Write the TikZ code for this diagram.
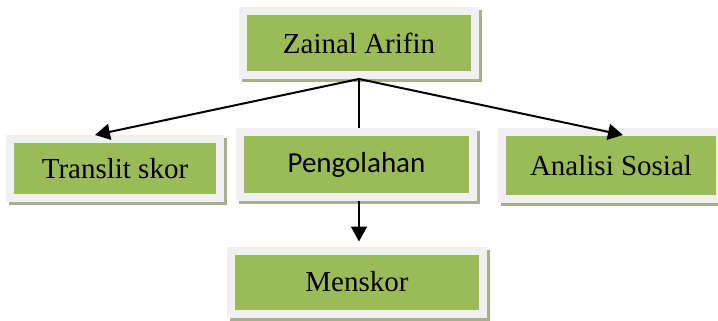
\documentclass[tikz,border=0pt]{standalone}
\usepackage{fontspec}
\setmainfont{Liberation Serif}
\newfontfamily\calibri{Carlito}
\usepackage{tikz}
\usetikzlibrary{arrows.meta,shadows}
\definecolor{olive}{RGB}{155,187,89}
\definecolor{framegray}{RGB}{240,240,240}
\definecolor{shadowgray}{RGB}{166,176,142}
\tikzset{every picture/.style={line width=1pt}}

\begin{document}
\begin{tikzpicture}[x=0.5pt,y=-0.5pt,
  box/.style={rectangle, fill=olive, draw=framegray, line width=4pt, inner sep=0pt,
    font=\fontsize{14.5}{17}\selectfont,
    drop shadow={shadow xshift=1.5pt, shadow yshift=-1.5pt, fill=shadowgray,
      draw=shadowgray, line width=4pt, opacity=1}},
  link/.style={-{Triangle[length=7.5pt,width=8pt]}, line width=1pt}]
\useasboundingbox (0,0) rectangle (718,321);
\node[box, minimum width=116pt, minimum height=32pt] (1) at (359,43) {Zainal Arifin};
\node[box, minimum width=105pt, minimum height=29.5pt] (2) at (115,168.5) {Translit skor};
\node[box, minimum width=116.5pt, minimum height=32.5pt, font=\calibri\fontsize{14.5}{17}\selectfont] (3) at (356.5,164.5) {Pengolahan};
\node[box, minimum width=109pt, minimum height=33.5pt] (4) at (611,165.5) {Analisi Sosial};
\node[box, minimum width=126pt, minimum height=31.5pt] (5) at (357,282) {Menskor};
% arrows
\draw[link] (1.south) -- ([xshift=-10pt]2.north);
\draw[link] (1.south) -- ([xshift=6pt,yshift=-3.5pt]4.north);
\draw (1.south) -- (1.south |- 3.north);
\draw[link, shorten >=2.5pt] (3.south -| 1.south) -- (5.north -| 1.south);
\end{tikzpicture}
\end{document}
